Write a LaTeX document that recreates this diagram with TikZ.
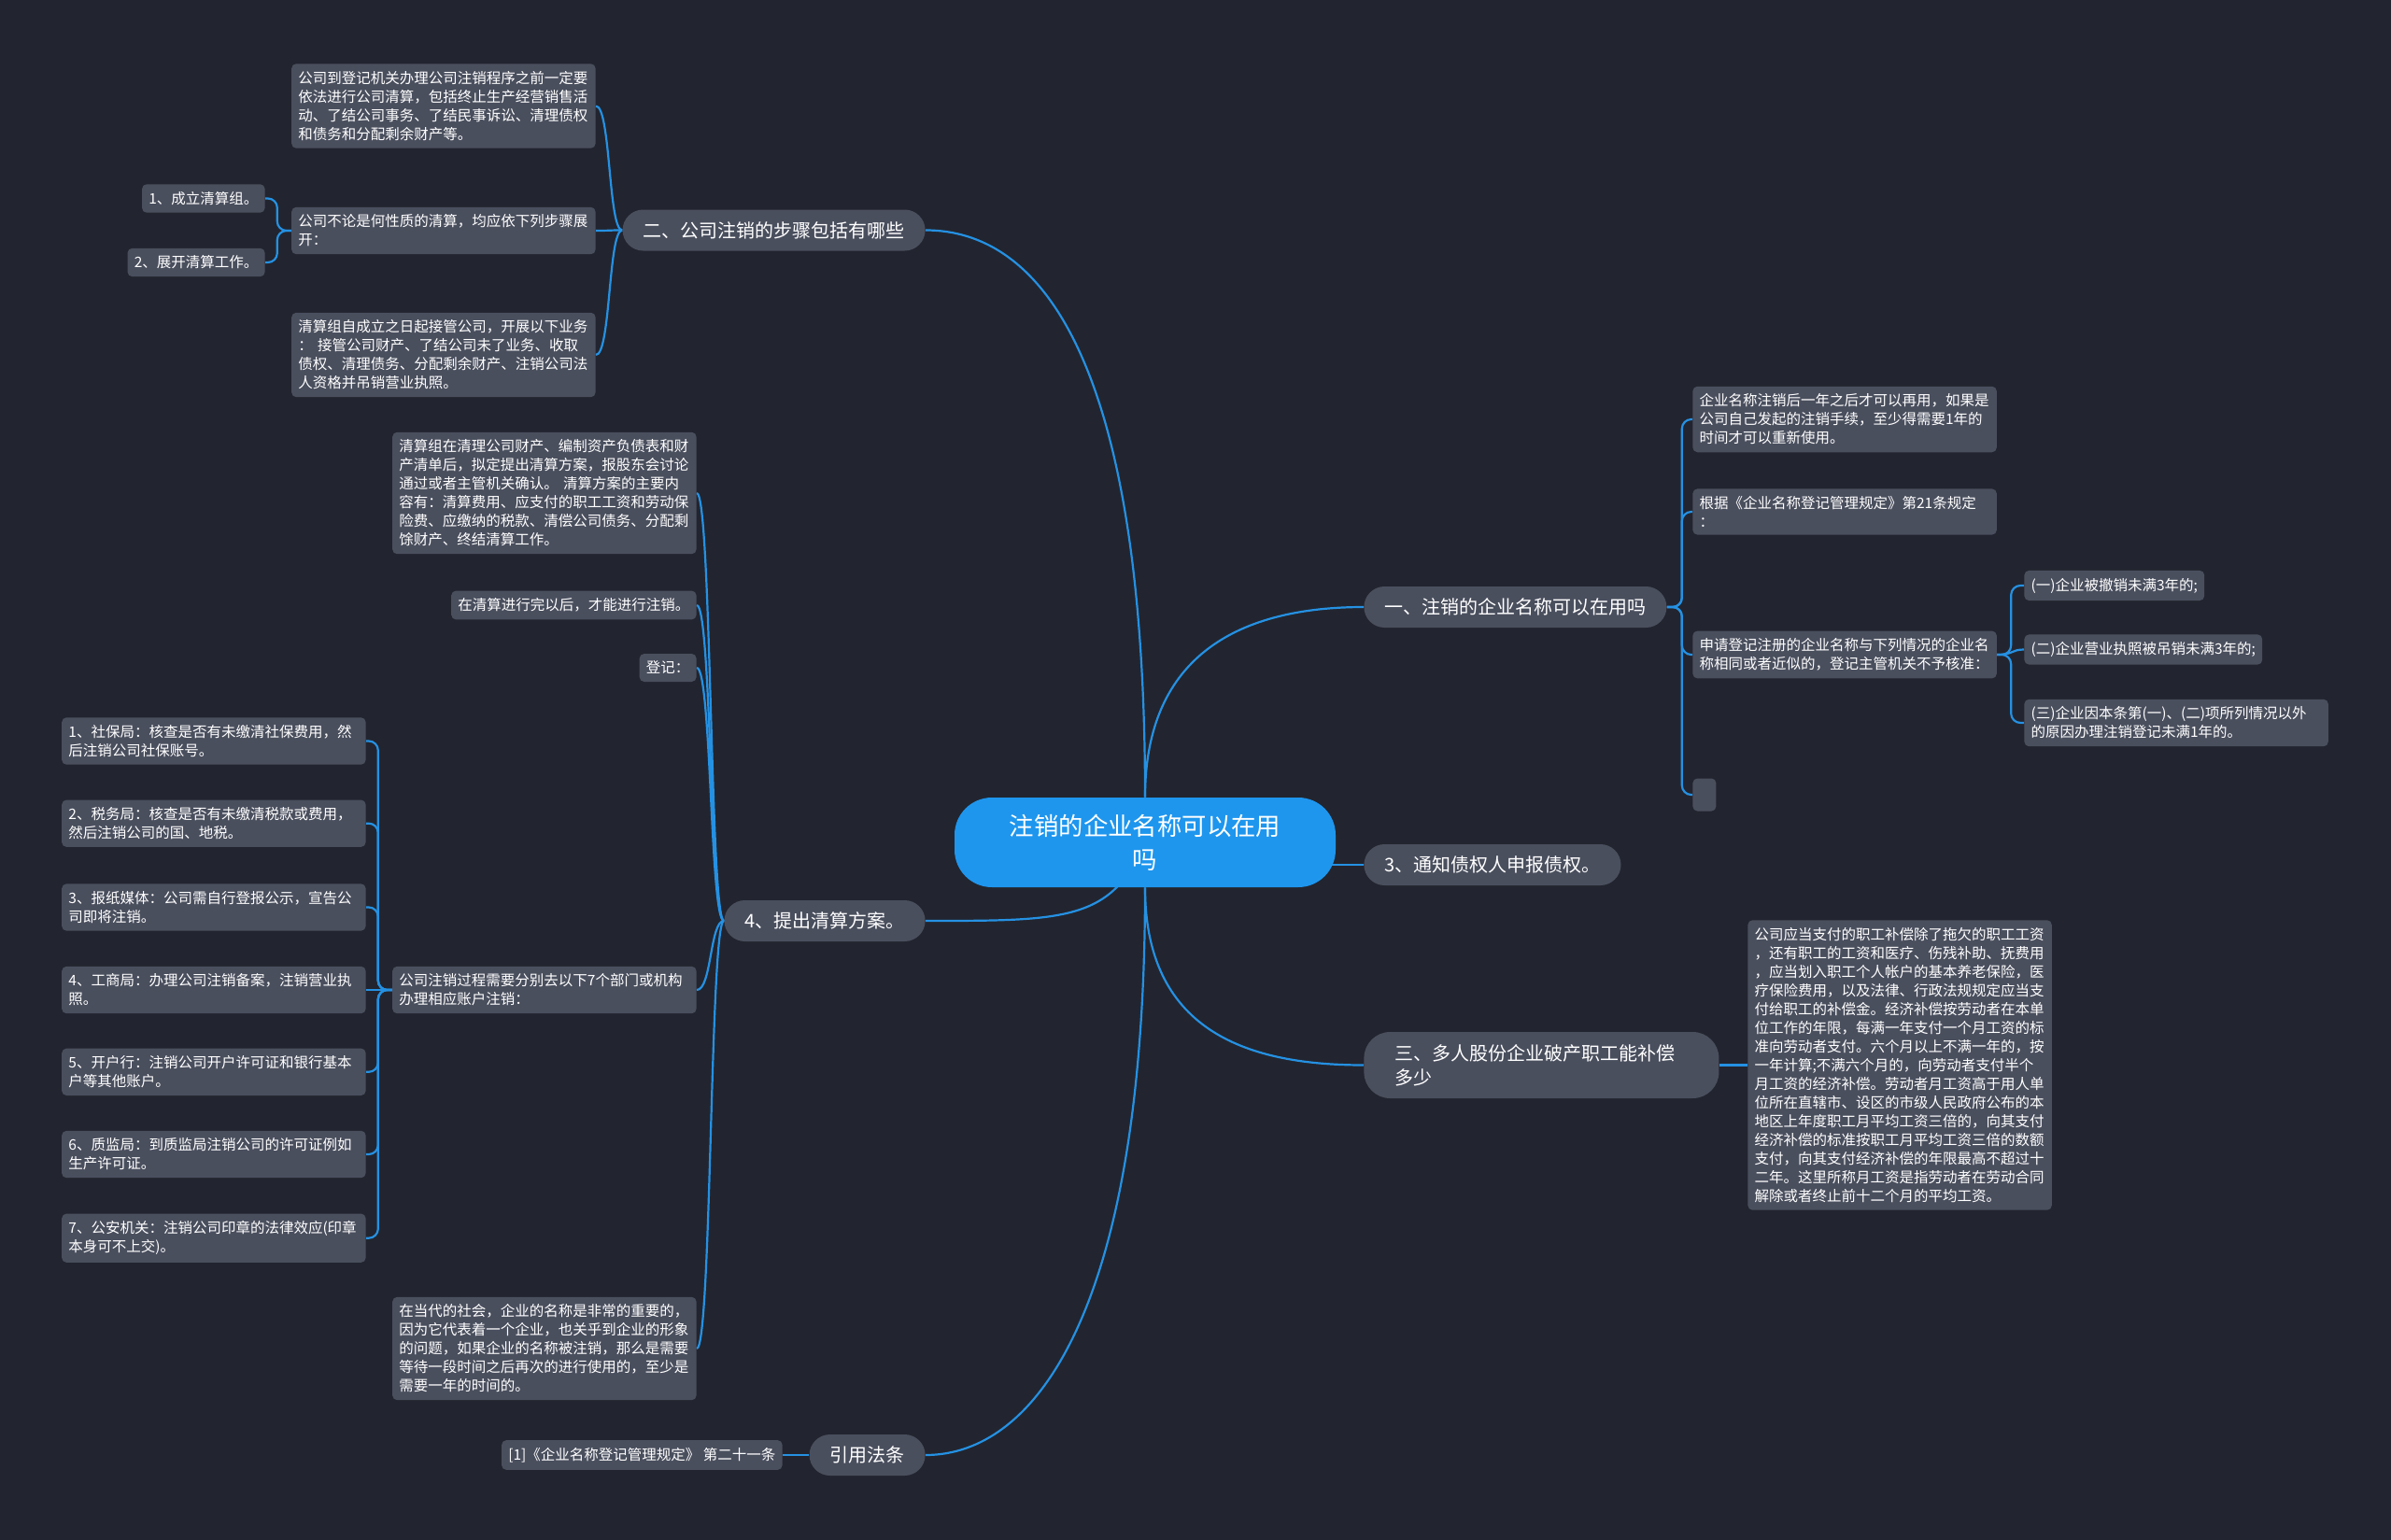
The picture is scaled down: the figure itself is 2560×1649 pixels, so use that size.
\documentclass[tikz,border=0pt]{standalone}
\usepackage{fontspec}
\setmainfont{Noto Sans CJK SC}
\usetikzlibrary{backgrounds}
\definecolor{bgc}{HTML}{22252F}
\definecolor{boxc}{HTML}{4A4F5E}
\definecolor{rootc}{HTML}{1E96EE}
\definecolor{linec}{HTML}{2591E3}
\tikzset{
  leaf/.style={fill=boxc, rounded corners=2.5pt, text=white,
    font=\fontsize{7.75pt}{10pt}\selectfont, align=left, inner xsep=3.6pt, inner ysep=4pt},
  wleaf/.style={leaf, text width=155.5pt},
  pill/.style={fill=boxc, rounded corners=11pt, text=white,
    font=\fontsize{10pt}{13pt}\selectfont, inner xsep=11pt, inner ysep=0pt, minimum height=22pt},
  rootn/.style={fill=rootc, rounded corners=20pt, text=white,
    font=\fontsize{13.2pt}{18pt}\selectfont, align=center, minimum width=204pt, minimum height=48pt},
  link/.style={draw=linec, line width=1.1pt},
  elbow/.style={link, rounded corners=5pt},
}
\begin{document}
\begin{tikzpicture}[x=0.5pt,y=-0.5pt]
\useasboundingbox (0,0) rectangle (2560,1649);
\begin{scope}[on background layer]
\fill[bgc] (0,0) rectangle (2560,1649);
\end{scope}

% root
\node[rootn] (root) at (1226,902) {注销的企业名称可以在用\\吗};

% level 1
\node[pill, anchor=east] (n2) at (991,246.5) {二、公司注销的步骤包括有哪些};
\node[pill, anchor=west] (n1) at (1460,650) {一、注销的企业名称可以在用吗};
\node[pill, anchor=west] (n3) at (1460,926) {3、通知债权人申报债权。};
\node[pill, anchor=west, rounded corners=14pt, align=left, text width=157pt, inner xsep=16.5pt, minimum height=35.5pt] (n5) at (1460,1140.5) {三、多人股份企业破产职工能补偿\\多少};
\node[pill, anchor=east] (n4) at (991,986) {4、提出清算方案。};
\node[pill, anchor=east] (n6) at (991,1558) {引用法条};

% branch 二
\node[wleaf, anchor=east] (a1) at (638,113.5) {公司到登记机关办理公司注销程序之前一定要\\依法进行公司清算，包括终止生产经营销售活\\动、了结公司事务、了结民事诉讼、清理债权\\和债务和分配剩余财产等。};
\node[wleaf, anchor=east] (a2) at (638,247) {公司不论是何性质的清算，均应依下列步骤展\\开：};
\node[wleaf, anchor=east] (a3) at (638,380) {清算组自成立之日起接管公司，开展以下业务\\： 接管公司财产、了结公司未了业务、收取\\债权、清理债务、分配剩余财产、注销公司法\\人资格并吊销营业执照。};
\node[leaf, anchor=east] (a2a) at (284,212.5) {1、成立清算组。};
\node[leaf, anchor=east] (a2b) at (284,281) {2、展开清算工作。};

% branch 一
\node[wleaf, anchor=west] (b1) at (1812,449) {企业名称注销后一年之后才可以再用，如果是\\公司自己发起的注销手续，至少得需要1年的\\时间才可以重新使用。};
\node[wleaf, anchor=west] (b2) at (1812,548) {根据《企业名称登记管理规定》第21条规定\\：};
\node[wleaf, anchor=west] (b3) at (1812,701) {申请登记注册的企业名称与下列情况的企业名\\称相同或者近似的，登记主管机关不予核准：};
\node[leaf, anchor=west, minimum width=12.5pt, minimum height=17.5pt, inner sep=0pt] (b4) at (1812,851) {};
\node[leaf, anchor=west] (c1) at (2167,627) {(一)企业被撤销未满3年的;};
\node[leaf, anchor=west] (c2) at (2167,695.5) {(二)企业营业执照被吊销未满3年的;};
\node[wleaf, anchor=west] (c3) at (2167,774) {(三)企业因本条第(一)、(二)项所列情况以外\\的原因办理注销登记未满1年的。};

% branch 三
\node[wleaf, anchor=west] (d1) at (1871,1140.5) {公司应当支付的职工补偿除了拖欠的职工工资\\，还有职工的工资和医疗、伤残补助、抚费用\\，应当划入职工个人帐户的基本养老保险，医\\疗保险费用，以及法律、行政法规规定应当支\\付给职工的补偿金。经济补偿按劳动者在本单\\位工作的年限，每满一年支付一个月工资的标\\准向劳动者支付。六个月以上不满一年的，按\\一年计算;不满六个月的，向劳动者支付半个\\月工资的经济补偿。劳动者月工资高于用人单\\位所在直辖市、设区的市级人民政府公布的本\\地区上年度职工月平均工资三倍的，向其支付\\经济补偿的标准按职工月平均工资三倍的数额\\支付，向其支付经济补偿的年限最高不超过十\\二年。这里所称月工资是指劳动者在劳动合同\\解除或者终止前十二个月的平均工资。};

% branch 4
\node[wleaf, anchor=east] (e1) at (746,528) {清算组在清理公司财产、编制资产负债表和财\\产清单后，拟定提出清算方案，报股东会讨论\\通过或者主管机关确认。 清算方案的主要内\\容有：清算费用、应支付的职工工资和劳动保\\险费、应缴纳的税款、清偿公司债务、分配剩\\馀财产、终结清算工作。};
\node[leaf, anchor=east] (e2) at (746,648) {在清算进行完以后，才能进行注销。};
\node[leaf, anchor=east] (e3) at (746,715) {登记：};
\node[wleaf, anchor=east] (e4) at (746,1060) {公司注销过程需要分别去以下7个部门或机构\\办理相应账户注销：};
\node[wleaf, anchor=east] (e5) at (746,1444) {在当代的社会，企业的名称是非常的重要的，\\因为它代表着一个企业，也关乎到企业的形象\\的问题，如果企业的名称被注销，那么是需要\\等待一段时间之后再次的进行使用的，至少是\\需要一年的时间的。};
\node[wleaf, anchor=east] (f1) at (392,793.5) {1、社保局：核查是否有未缴清社保费用，然\\后注销公司社保账号。};
\node[wleaf, anchor=east] (f2) at (392,881.7) {2、税务局：核查是否有未缴清税款或费用，\\然后注销公司的国、地税。};
\node[wleaf, anchor=east] (f3) at (392,971.5) {3、报纸媒体：公司需自行登报公示，宣告公\\司即将注销。};
\node[wleaf, anchor=east] (f4) at (392,1060) {4、工商局：办理公司注销备案，注销营业执\\照。};
\node[wleaf, anchor=east] (f5) at (392,1147.8) {5、开户行：注销公司开户许可证和银行基本\\户等其他账户。};
\node[wleaf, anchor=east] (f6) at (392,1236) {6、质监局：到质监局注销公司的许可证例如\\生产许可证。};
\node[wleaf, anchor=east] (f7) at (392,1325.7) {7、公安机关：注销公司印章的法律效应(印章\\本身可不上交)。};

% branch 引用法条
\node[leaf, anchor=east] (g1) at (838,1558) {[1]《企业名称登记管理规定》 第二十一条};

% connectors
\begin{scope}[on background layer]
\draw[link] (root.north) .. controls +(0,-478) and +(119,0) .. (n2.east);
\draw[link] (root.north) .. controls +(0,-154) and +(-130,0) .. (n1.west);
\draw[link] (root.center |- n3.west) -- (n3.west);
\draw[link] (root.south) .. controls +(0,150) and +(-130,0) .. (n5.west);
\draw[link] (root.center) .. controls +(-36,84) and +(150,0) .. (n4.east);
\draw[link] (root.south) .. controls +(0,450) and +(119,0) .. (n6.east);

\foreach \c in {a1,a2,a3}
  \draw[link] (n2.west) .. controls +(-15,0) and +(16,0) .. (\c.east);
\foreach \c in {a2a,a2b}
  \draw[elbow] (a2.west) -- ++(-15,0) |- (\c.east);
\foreach \c in {b1,b2,b3,b4}
  \draw[elbow] (n1.east) -- ++(16,0) |- (\c.west);
\foreach \c in {c1,c3}
  \draw[elbow] (b3.east) -- ++(15,0) |- (\c.west);
\draw[link] (b3.east) .. controls +(18,0) and +(-14,0) .. (c2.west);
\draw[link] (n5.east) -- (d1.west);
\foreach \c in {e1,e2,e3,e4,e5}
  \draw[link] (n4.west) .. controls +(-15,0) and +(16,0) .. (\c.east);
\foreach \c in {f1,f2,f3,f5,f6,f7}
  \draw[elbow] (e4.west) -- ++(-15,0) |- (\c.east);
\draw[link] (e4.west) -- (f4.east);
\draw[link] (n6.west) -- (g1.east);
\end{scope}
\end{tikzpicture}
\end{document}
